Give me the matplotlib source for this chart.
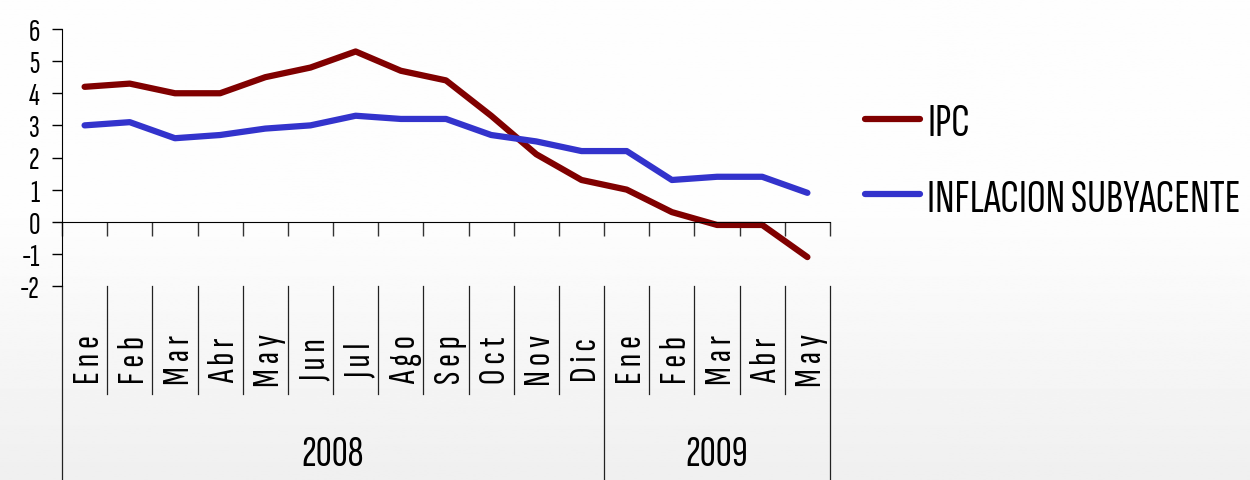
import numpy as np
import matplotlib.pyplot as plt

plt.rcParams['font.family'] = ['Sofia Sans Extra Condensed', 'Liberation Sans', 'DejaVu Sans']
plt.rcParams['axes.unicode_minus'] = False

meses = ['Ene', 'Feb', 'Mar', 'Abr', 'May', 'Jun', 'Jul', 'Ago', 'Sep', 'Oct', 'Nov', 'Dic',
         'Ene', 'Feb', 'Mar', 'Abr', 'May']
anios = ['2008', '2009']
meses_por_anio = [12, 5]
ipc = [4.2, 4.3, 4.0, 4.0, 4.5, 4.8, 5.3, 4.7, 4.4, 3.3, 2.1, 1.3, 1.0, 0.3, -0.1, -0.1, -1.1]
subyacente = [3.0, 3.1, 2.6, 2.7, 2.9, 3.0, 3.3, 3.2, 3.2, 2.7, 2.5, 2.2, 2.2, 1.3, 1.4, 1.4, 0.9]

W, H = 1250, 481
fig = plt.figure(figsize=(W / 100, H / 100), dpi=100)

# fondo con degradado suave hacia abajo
bg = fig.add_axes([0, 0, 1, 1], zorder=-10)
t = np.linspace(0, 1, 300)
shade = 0.993 - 0.055 * np.clip((t - 0.45) / 0.55, 0, 1)
bg.imshow(np.repeat(shade[:, None], 2, axis=1), cmap='gray', vmin=0, vmax=1,
          aspect='auto', extent=[0, 1, 0, 1])
bg.set_axis_off()

# area del grafico en pixeles: x 62..830, y 30..287
x0, x1, ytop, ybot = 62, 830, 30, 287
ax = fig.add_axes([x0 / W, 1 - ybot / H, (x1 - x0) / W, (ybot - ytop) / H])
ax.set_facecolor('none')

def ay(py):
    # pixel vertical -> coordenada de ejes
    return (ybot - py) / (ybot - ytop)

x = np.arange(len(meses))
ax.plot(x, ipc, color='#800000', lw=4.5, solid_capstyle='round', label='IPC')
ax.plot(x, subyacente, color='#3333cc', lw=4.5, solid_capstyle='round',
        label='INFLACION SUBYACENTE')

ax.set_xlim(-0.5, len(meses) - 0.5)
ax.set_ylim(-2, 6)
ax.set_yticks(range(-2, 7))
ax.tick_params(axis='y', length=7, width=1, labelsize=23, pad=9)

ax.spines['top'].set_visible(False)
ax.spines['right'].set_visible(False)
ax.spines['bottom'].set_position(('data', 0))
ax.set_xticks(np.arange(-0.5, len(meses), 1))
ax.set_xticklabels([])
ax.tick_params(axis='x', length=10, width=1, direction='out', color='#333333')

tr = ax.get_xaxis_transform()

# separadores de meses
limites_anio = np.cumsum([0] + meses_por_anio) - 0.5
for b in np.arange(0.5, len(meses) - 1, 1):
    if b in limites_anio:
        continue
    ax.plot([b, b], [0, ay(395)], transform=tr, color='#222222', lw=0.9, clip_on=False)
for b in limites_anio:
    ax.plot([b, b], [0, ay(482)], transform=tr, color='#222222', lw=0.9, clip_on=False)

# etiquetas de meses (verticales, letras espaciadas)
for i, m in enumerate(meses):
    ax.text(i + 0.1, ay(360), ' '.join(m), rotation=90, ha='center', va='center',
            fontsize=28, transform=tr, clip_on=False)

# etiquetas de anios
for k, a in enumerate(anios):
    c = (limites_anio[k] + limites_anio[k + 1]) / 2
    ax.text(c, ay(455), a, ha='center', va='center', fontsize=32, transform=tr,
            clip_on=False)

h, l = ax.get_legend_handles_labels()
fig.legend(h, l, loc='center left', bbox_to_anchor=(865 / W, 1 - 162 / H), frameon=False,
           fontsize=34, handlelength=1.17, handletextpad=0.15, labelspacing=0.7,
           borderpad=0, borderaxespad=0)

fig.savefig('out.png', dpi=100)
